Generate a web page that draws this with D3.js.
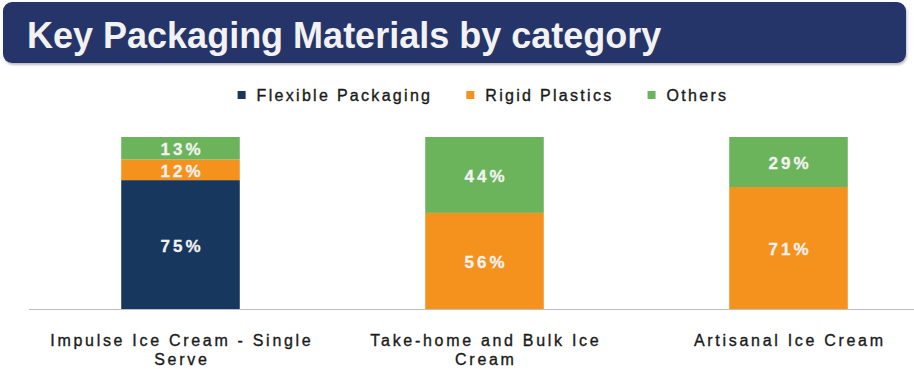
<!DOCTYPE html>
<html>
<head>
<meta charset="utf-8">
<script src="https://cdn.jsdelivr.net/npm/d3@7"></script>
<style>
  html, body { margin: 0; padding: 0; background: #ffffff; }
  svg { display: block; font-family: "Liberation Sans", Arial, sans-serif; }
</style>
</head>
<body>
<svg id="chart" width="914" height="369"></svg>
<script>
// Chart data
const title = "Key Packaging Materials by category";
const categories = ["Impulse Ice Cream - Single Serve", "Take-home and Bulk Ice Cream", "Artisanal Ice Cream"];
const seriesNames = ["Flexible Packaging", "Rigid Plastics", "Others"];
const flexiblePackaging = [75, 0, 0];
const rigidPlastics = [12, 56, 71];
const others = [13, 44, 29];
const seriesColors = ["#17375e", "#f5921e", "#6bb45b"];

const svg = d3.select("#chart");
const W = 914, H = 369;

// Header banner
const defs = svg.append("defs");
const shadow = defs.append("filter").attr("id", "bannerShadow")
  .attr("x", "-5%").attr("y", "-20%").attr("width", "110%").attr("height", "150%");
shadow.append("feDropShadow").attr("dx", 1).attr("dy", 2)
  .attr("stdDeviation", 1).attr("flood-color", "#000").attr("flood-opacity", 0.25);

svg.append("rect")
  .attr("x", 3).attr("y", 2).attr("width", 903).attr("height", 61)
  .attr("rx", 9).attr("ry", 9)
  .attr("fill", "#263669")
  .attr("filter", "url(#bannerShadow)");

svg.append("text")
  .attr("x", 27).attr("y", 47.5)
  .attr("fill", "#f2f2f2")
  .attr("font-size", 36).attr("font-weight", "bold")
  .text(title);

// Stack the series
const rows = categories.map((c, i) => ({
  category: c,
  [seriesNames[0]]: flexiblePackaging[i],
  [seriesNames[1]]: rigidPlastics[i],
  [seriesNames[2]]: others[i]
}));
const stacked = d3.stack().keys(seriesNames)(rows);

// Scales
const x = d3.scaleBand().domain(categories).range([28.5, 940.5])
  .paddingInner(0.61).paddingOuter(0.305);
const y = d3.scaleLinear().domain([0, 100]).range([309.5, 137]);
const color = d3.scaleOrdinal().domain(seriesNames).range(seriesColors);

// Bars
const layers = svg.append("g").selectAll("g").data(stacked).join("g")
  .attr("fill", d => color(d.key));

layers.selectAll("rect").data(d => d.map(v => ({ key: d.key, v })))
  .join("rect")
  .filter(d => d.v[1] - d.v[0] > 0)
  .attr("x", d => x(d.v.data.category))
  .attr("width", x.bandwidth())
  .attr("y", d => y(d.v[1]))
  .attr("height", d => y(d.v[0]) - y(d.v[1]));

// Value labels in the middle of each segment
const labelSpacing = 3;
layers.selectAll("text.val").data(d => d.map(v => ({ key: d.key, v })).filter(d => d.v[1] - d.v[0] > 0))
  .join("text")
  .attr("class", "val")
  .attr("x", d => x(d.v.data.category) + x.bandwidth() / 2 + labelSpacing / 2)
  .attr("y", d => (y(d.v[0]) + y(d.v[1])) / 2 + 1.5)
  .attr("text-anchor", "middle")
  .attr("dominant-baseline", "central")
  .attr("fill", "#f2f2f2")
  .attr("stroke", "#f2f2f2").attr("stroke-width", 0.3)
  .attr("font-size", 17).attr("font-weight", "bold")
  .attr("letter-spacing", labelSpacing)
  .text(d => `${d.v[1] - d.v[0]}%`);

// Baseline axis with wrapped category labels
const axis = d3.axisBottom(x).tickSize(0).tickPadding(0);
const axisG = svg.append("g").attr("transform", "translate(0,309.5)").call(axis);
axisG.select(".domain").attr("d", `M29,0H${W}`).attr("stroke", "#bfbfbf").attr("stroke-width", 1.2);

const catSpacing = 2.7;
axisG.selectAll(".tick text")
  .attr("font-size", 16)
  .attr("font-family", "'Liberation Sans', Arial, sans-serif")
  .attr("fill", "#1a1a1a")
  .attr("stroke", "#1a1a1a").attr("stroke-width", 0.35)
  .attr("letter-spacing", catSpacing)
  .attr("y", 0).attr("dy", null)
  .each(function (d) {
    const t = d3.select(this);
    const words = d.split(" ");
    t.text(null);
    const maxW = 285;
    let lines = [[]];
    let probe = t.append("tspan");
    words.forEach(w => {
      const cur = lines[lines.length - 1];
      probe.text(cur.concat(w).join(" "));
      if (cur.length && probe.node().getComputedTextLength() > maxW) lines.push([w]);
      else cur.push(w);
    });
    probe.remove();
    lines.forEach((ln, i) => {
      t.append("tspan")
        .attr("x", catSpacing / 2)
        .attr("y", 36 + i * 19)
        .text(ln.join(" "));
    });
  });

// Legend
const legendSpacing = 2.3;
const legend = svg.append("g");
const items = legend.selectAll("g").data(seriesNames).join("g");
items.append("rect")
  .attr("y", 91).attr("width", 8).attr("height", 8)
  .attr("fill", d => color(d));
items.append("text")
  .attr("x", 19).attr("y", 100.5)
  .attr("font-size", 16)
  .attr("letter-spacing", legendSpacing)
  .attr("fill", "#1a1a1a")
  .attr("stroke", "#1a1a1a").attr("stroke-width", 0.35)
  .text(d => d);

let cursor = 0;
const widths = [];
items.each(function () {
  const w = d3.select(this).select("text").node().getComputedTextLength();
  widths.push(19 + w);
});
const gap = 34;
const total = d3.sum(widths) + gap * (widths.length - 1);
cursor = 483 - total / 2;
items.attr("transform", (d, i) => {
  const tx = cursor;
  cursor += widths[i] + gap;
  return `translate(${tx},0)`;
});
</script>
</body>
</html>
